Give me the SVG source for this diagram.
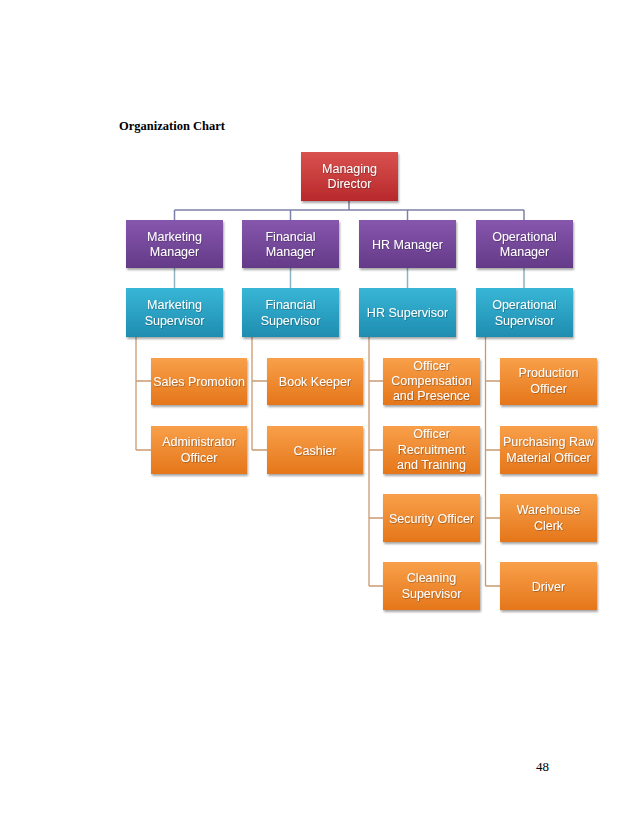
<svg xmlns="http://www.w3.org/2000/svg" width="638" height="826" viewBox="0 0 638 826">
<style>
.t{font-family:"Liberation Sans",Arial,sans-serif;font-size:12.5px;fill:#fff;text-anchor:middle;filter:url(#ts)}
.h{font-family:"Liberation Serif","Times New Roman",serif;font-size:12.5px;font-weight:bold;fill:#000}
.pg{font-family:"Liberation Serif","Times New Roman",serif;font-size:13px;fill:#000}
.ct{fill:none;stroke:#7d80a8;stroke-width:1.5}
.cs{fill:none;stroke:#8fb3c0;stroke-width:1.5}
.co{fill:none;stroke:#c99a72;stroke-width:1.3}
</style>
<defs>
<linearGradient id="gr" x1="0" y1="0" x2="0" y2="1"><stop offset="0" stop-color="#d9524f"/><stop offset="1" stop-color="#b8282b"/></linearGradient>
<linearGradient id="gp" x1="0" y1="0" x2="0" y2="1"><stop offset="0" stop-color="#8657ad"/><stop offset="1" stop-color="#643a88"/></linearGradient>
<linearGradient id="gt" x1="0" y1="0" x2="0" y2="1"><stop offset="0" stop-color="#38b6d6"/><stop offset="1" stop-color="#1f8db0"/></linearGradient>
<linearGradient id="go" x1="0" y1="0" x2="0" y2="1"><stop offset="0" stop-color="#f8a04a"/><stop offset="1" stop-color="#e5761a"/></linearGradient>
<filter id="sh" x="-10%" y="-10%" width="125%" height="135%"><feDropShadow dx="1" dy="2" stdDeviation="1.2" flood-color="#000" flood-opacity="0.35"/></filter>
<filter id="ts" x="-10%" y="-30%" width="120%" height="160%"><feDropShadow dx="0.6" dy="0.6" stdDeviation="0.4" flood-color="#000" flood-opacity="0.4"/></filter>
</defs>
<rect width="638" height="826" fill="#fff"/>
<text class="h" x="119" y="130">Organization Chart</text>
<text class="pg" x="536" y="771">48</text>
<g id="connectors">
<path class="ct" d="M349 201V210M174.5 210H524M174.5 210V220M290.5 210V220M407.5 210V220M524 210V220"/>
<path class="cs" d="M174.5 268V288M290.5 268V288M407.5 268V288M524 268V288"/>
<path class="co" d="M136 337V450M136 381H151M136 450H151"/>
<path class="co" d="M252 337V450M252 381H267M252 450H267"/>
<path class="co" d="M369 337V586M369 381H383M369 450H383M369 518H383M369 586H383"/>
<path class="co" d="M485.5 337V586M485.5 381H500M485.5 450H500M485.5 518H500M485.5 586H500"/>
</g>
<g id="md"><rect x="301" y="152" width="97" height="49" fill="url(#gr)" filter="url(#sh)"/><text class="t" x="349.5" y="172.5">Managing</text><text class="t" x="349.5" y="188">Director</text></g>
<g id="mkt-mgr"><rect x="126" y="220" width="97" height="48" fill="url(#gp)" filter="url(#sh)"/><text class="t" x="174.5" y="240.5">Marketing</text><text class="t" x="174.5" y="256">Manager</text></g>
<g id="fin-mgr"><rect x="242" y="220" width="97" height="48" fill="url(#gp)" filter="url(#sh)"/><text class="t" x="290.5" y="240.5">Financial</text><text class="t" x="290.5" y="256">Manager</text></g>
<g id="hr-mgr"><rect x="359" y="220" width="97" height="48" fill="url(#gp)" filter="url(#sh)"/><text class="t" x="407.5" y="248.5">HR Manager</text></g>
<g id="ops-mgr"><rect x="476" y="220" width="97" height="48" fill="url(#gp)" filter="url(#sh)"/><text class="t" x="524.5" y="240.5">Operational</text><text class="t" x="524.5" y="256">Manager</text></g>
<g id="mkt-sup"><rect x="126" y="288" width="97" height="49" fill="url(#gt)" filter="url(#sh)"/><text class="t" x="174.5" y="309">Marketing</text><text class="t" x="174.5" y="324.5">Supervisor</text></g>
<g id="fin-sup"><rect x="242" y="288" width="97" height="49" fill="url(#gt)" filter="url(#sh)"/><text class="t" x="290.5" y="309">Financial</text><text class="t" x="290.5" y="324.5">Supervisor</text></g>
<g id="hr-sup"><rect x="359" y="288" width="97" height="49" fill="url(#gt)" filter="url(#sh)"/><text class="t" x="407.5" y="317">HR Supervisor</text></g>
<g id="ops-sup"><rect x="476" y="288" width="97" height="49" fill="url(#gt)" filter="url(#sh)"/><text class="t" x="524.5" y="309">Operational</text><text class="t" x="524.5" y="324.5">Supervisor</text></g>
<g id="sales"><rect x="151" y="358" width="96" height="47" fill="url(#go)" filter="url(#sh)"/><text class="t" x="199" y="385.5">Sales Promotion</text></g>
<g id="admin"><rect x="151" y="426" width="96" height="48" fill="url(#go)" filter="url(#sh)"/><text class="t" x="199" y="446">Administrator</text><text class="t" x="199" y="461.5">Officer</text></g>
<g id="book"><rect x="267" y="358" width="96" height="47" fill="url(#go)" filter="url(#sh)"/><text class="t" x="315" y="385.5">Book Keeper</text></g>
<g id="cashier"><rect x="267" y="426" width="96" height="48" fill="url(#go)" filter="url(#sh)"/><text class="t" x="315" y="454.5">Cashier</text></g>
<g id="comp"><rect x="383" y="358" width="97" height="47" fill="url(#go)" filter="url(#sh)"/><text class="t" x="431.5" y="369.5">Officer</text><text class="t" x="431.5" y="385">Compensation</text><text class="t" x="431.5" y="400">and Presence</text></g>
<g id="recruit"><rect x="383" y="426" width="97" height="48" fill="url(#go)" filter="url(#sh)"/><text class="t" x="431.5" y="438">Officer</text><text class="t" x="431.5" y="453.5">Recruitment</text><text class="t" x="431.5" y="468.5">and Training</text></g>
<g id="security"><rect x="383" y="494" width="97" height="48" fill="url(#go)" filter="url(#sh)"/><text class="t" x="431.5" y="522.5">Security Officer</text></g>
<g id="cleaning"><rect x="383" y="562" width="97" height="48" fill="url(#go)" filter="url(#sh)"/><text class="t" x="431.5" y="582">Cleaning</text><text class="t" x="431.5" y="597.5">Supervisor</text></g>
<g id="production"><rect x="500" y="358" width="97" height="47" fill="url(#go)" filter="url(#sh)"/><text class="t" x="548.5" y="377">Production</text><text class="t" x="548.5" y="392.5">Officer</text></g>
<g id="purchasing"><rect x="500" y="426" width="97" height="48" fill="url(#go)" filter="url(#sh)"/><text class="t" x="548.5" y="446">Purchasing Raw</text><text class="t" x="548.5" y="461.5">Material Officer</text></g>
<g id="warehouse"><rect x="500" y="494" width="97" height="48" fill="url(#go)" filter="url(#sh)"/><text class="t" x="548.5" y="514">Warehouse</text><text class="t" x="548.5" y="529.5">Clerk</text></g>
<g id="driver"><rect x="500" y="562" width="97" height="48" fill="url(#go)" filter="url(#sh)"/><text class="t" x="548.5" y="590.5">Driver</text></g>
</svg>
